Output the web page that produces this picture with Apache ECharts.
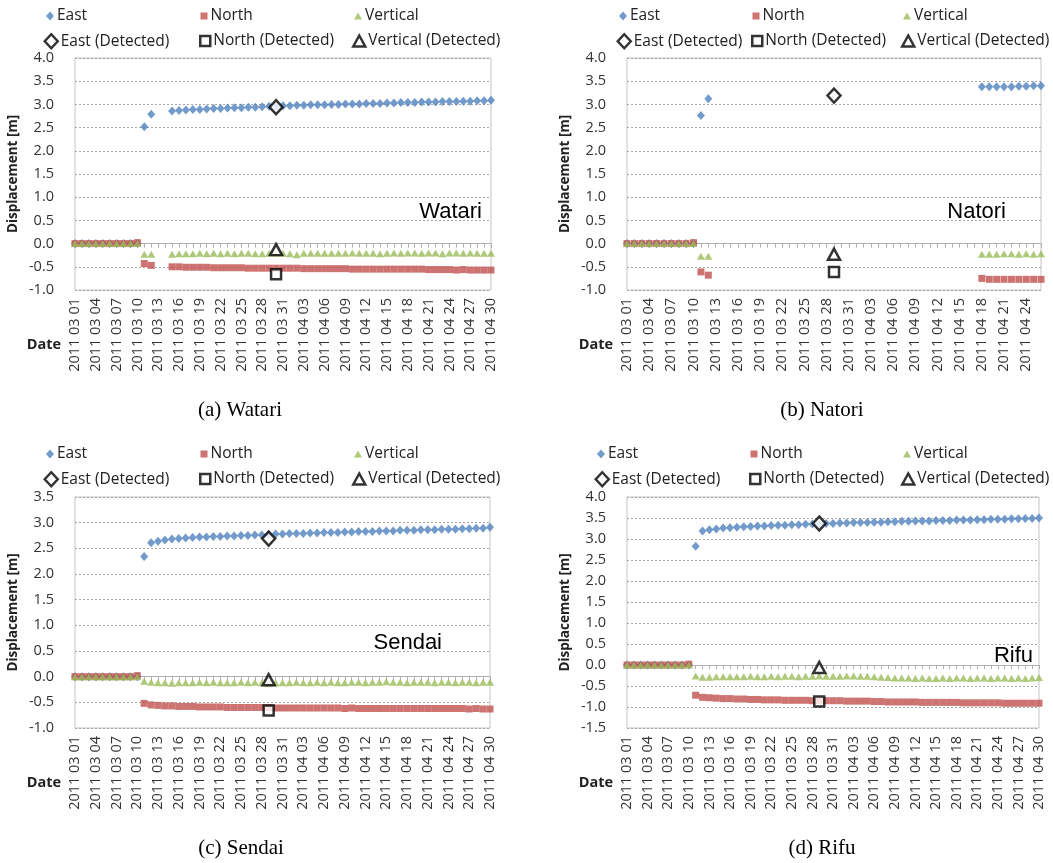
<!DOCTYPE html>
<html>
<head>
<meta charset="utf-8">
<script src="https://cdn.jsdelivr.net/npm/echarts@6/dist/echarts.min.js"></script>
<style>
html,body{margin:0;padding:0;background:#fff;}
#c{width:1053px;height:863px;}
</style>
</head>
<body>
<div id="c"></div>
<script>
// ---------- categories ----------
const dates = [
'2011 03 01','2011 03 02','2011 03 03','2011 03 04','2011 03 05','2011 03 06','2011 03 07','2011 03 08','2011 03 09','2011 03 10',
'2011 03 11','2011 03 12','2011 03 13','2011 03 14','2011 03 15','2011 03 16','2011 03 17','2011 03 18','2011 03 19','2011 03 20',
'2011 03 21','2011 03 22','2011 03 23','2011 03 24','2011 03 25','2011 03 26','2011 03 27','2011 03 28','2011 03 29','2011 03 30',
'2011 03 31','2011 04 01','2011 04 02','2011 04 03','2011 04 04','2011 04 05','2011 04 06','2011 04 07','2011 04 08','2011 04 09',
'2011 04 10','2011 04 11','2011 04 12','2011 04 13','2011 04 14','2011 04 15','2011 04 16','2011 04 17','2011 04 18','2011 04 19',
'2011 04 20','2011 04 21','2011 04 22','2011 04 23','2011 04 24','2011 04 25','2011 04 26','2011 04 27','2011 04 28','2011 04 29',
'2011 04 30'];
const natoriDates = dates.slice(0, 57); // 2011 03 01 .. 2011 04 26

// ---------- Watari ----------
const watariEast = [0,0,0,0,0,0,0,0,0,0, 2.52,2.79,null,null,
 2.86,2.87,2.88,2.89,2.89,2.90,2.91,2.91,2.92,2.93,
 2.93,2.94,2.94,2.95,2.96,2.96,2.97,2.97,2.98,2.98,
 2.99,2.99,2.99,3.00,3.00,3.01,3.01,3.01,3.02,3.02,
 3.02,3.03,3.03,3.04,3.04,3.04,3.05,3.05,3.05,3.06,
 3.06,3.06,3.07,3.07,3.08,3.08,3.09];
const watariNorth = [0,0,0,0,0,0,0,0,0,0.02, -0.43,-0.47,null,null,
 -0.50,-0.50,-0.51,-0.51,-0.51,-0.51,-0.52,-0.52,-0.52,-0.52,
 -0.52,-0.53,-0.53,-0.53,-0.53,-0.53,-0.53,-0.53,-0.53,-0.54,
 -0.54,-0.54,-0.54,-0.54,-0.54,-0.54,-0.55,-0.55,-0.55,-0.55,
 -0.55,-0.55,-0.55,-0.55,-0.55,-0.55,-0.55,-0.56,-0.56,-0.56,
 -0.56,-0.57,-0.56,-0.57,-0.57,-0.57,-0.57];
const watariVertical = [0,0,0,0,0,0,0,0,0,0, -0.23,-0.23,null,null,
 -0.23,-0.22,-0.22,-0.22,-0.21,-0.22,-0.21,-0.22,-0.21,-0.22,
 -0.21,-0.21,-0.22,-0.22,-0.21,-0.21,-0.21,-0.22,-0.24,-0.21,
 -0.21,-0.21,-0.21,-0.21,-0.21,-0.21,-0.20,-0.21,-0.21,-0.21,
 -0.22,-0.21,-0.20,-0.21,-0.20,-0.20,-0.21,-0.20,-0.20,-0.22,
 -0.20,-0.20,-0.21,-0.20,-0.21,-0.21,-0.21];
const watariDetected = ['2011 03 30', 2.94, -0.66, -0.13]; // date, east, north, vertical

// ---------- Natori ----------
const natoriEast = [0,0,0,0,0,0,0,0,0,0, 2.76,3.12,
 null,null,null,null,null,null,null,null,null,null,null,null,
 null,null,null,null,null,null,null,null,null,null,null,null,
 null,null,null,null,null,null,null,null,null,null,null,null,
 3.38,3.38,3.38,3.38,3.38,3.39,3.39,3.40,3.40];
const natoriNorth = [0,0,0,0,0,0,0,0,0,0.02, -0.61,-0.68,
 null,null,null,null,null,null,null,null,null,null,null,null,
 null,null,null,null,null,null,null,null,null,null,null,null,
 null,null,null,null,null,null,null,null,null,null,null,null,
 -0.75,-0.77,-0.77,-0.77,-0.77,-0.77,-0.77,-0.77,-0.77];
const natoriVertical = [0,0,0,0,0,0,0,0,0,0, -0.27,-0.27,
 null,null,null,null,null,null,null,null,null,null,null,null,
 null,null,null,null,null,null,null,null,null,null,null,null,
 null,null,null,null,null,null,null,null,null,null,null,null,
 -0.23,-0.23,-0.23,-0.22,-0.22,-0.23,-0.22,-0.23,-0.22];
const natoriDetected = ['2011 03 29', 3.19, -0.61, -0.23];

// ---------- Sendai ----------
const sendaiEast = [0,0,0,0,0,0,0,0,0,0,
 2.34,2.61,2.64,2.66,2.68,2.69,2.70,2.71,2.72,2.72,
 2.73,2.73,2.74,2.74,2.75,2.75,2.76,2.76,2.77,2.78,
 2.78,2.79,2.79,2.79,2.80,2.80,2.81,2.81,2.81,2.82,
 2.82,2.83,2.83,2.83,2.84,2.84,2.84,2.85,2.85,2.85,
 2.86,2.86,2.86,2.87,2.87,2.87,2.88,2.88,2.89,2.89,
 2.91];
const sendaiNorth = [0,0,0,0,0,0,0,0,0,0.02,
 -0.52,-0.55,-0.56,-0.57,-0.57,-0.58,-0.58,-0.58,-0.59,-0.59,
 -0.59,-0.59,-0.60,-0.60,-0.60,-0.60,-0.60,-0.60,-0.60,-0.61,
 -0.61,-0.61,-0.61,-0.61,-0.61,-0.61,-0.61,-0.61,-0.61,-0.62,
 -0.61,-0.62,-0.62,-0.62,-0.62,-0.62,-0.62,-0.62,-0.62,-0.62,
 -0.62,-0.62,-0.62,-0.62,-0.62,-0.62,-0.62,-0.63,-0.62,-0.63,
 -0.63];
const sendaiVertical = [0,0,0,0,0,0,0,0,0,0,
 -0.09,-0.11,-0.12,-0.12,-0.13,-0.12,-0.12,-0.12,-0.11,-0.12,
 -0.11,-0.12,-0.12,-0.12,-0.11,-0.12,-0.11,-0.12,-0.13,-0.12,
 -0.12,-0.12,-0.11,-0.12,-0.12,-0.11,-0.12,-0.11,-0.12,-0.12,
 -0.11,-0.11,-0.12,-0.11,-0.11,-0.10,-0.11,-0.11,-0.12,-0.11,
 -0.11,-0.11,-0.12,-0.11,-0.11,-0.12,-0.11,-0.11,-0.12,-0.11,
 -0.11];
const sendaiDetected = ['2011 03 29', 2.69, -0.66, -0.06];

// ---------- Rifu ----------
const rifuEast = [0,0,0,0,0,0,0,0,0,0,
 2.83,3.19,3.22,3.24,3.26,3.27,3.28,3.29,3.30,3.31,
 3.31,3.32,3.33,3.33,3.34,3.34,3.35,3.36,3.36,3.37,
 3.37,3.38,3.38,3.39,3.39,3.39,3.40,3.40,3.41,3.41,
 3.42,3.42,3.43,3.43,3.43,3.44,3.44,3.44,3.45,3.45,
 3.45,3.46,3.46,3.47,3.47,3.47,3.48,3.48,3.49,3.49,
 3.50];
const rifuNorth = [0,0,0,0,0,0,0,0,0,0.02,
 -0.72,-0.77,-0.78,-0.79,-0.80,-0.80,-0.81,-0.81,-0.82,-0.82,
 -0.83,-0.83,-0.83,-0.84,-0.84,-0.84,-0.84,-0.85,-0.85,-0.85,
 -0.85,-0.85,-0.86,-0.86,-0.86,-0.86,-0.87,-0.87,-0.88,-0.88,
 -0.88,-0.88,-0.88,-0.89,-0.89,-0.89,-0.89,-0.89,-0.89,-0.90,
 -0.90,-0.90,-0.90,-0.90,-0.90,-0.91,-0.91,-0.91,-0.91,-0.91,
 -0.91];
const rifuVertical = [0,0,0,0,0,0,0,0,0,0,
 -0.26,-0.29,-0.29,-0.28,-0.28,-0.28,-0.28,-0.28,-0.27,-0.28,
 -0.28,-0.27,-0.28,-0.27,-0.27,-0.28,-0.27,-0.27,-0.26,-0.27,
 -0.27,-0.27,-0.26,-0.26,-0.27,-0.27,-0.28,-0.29,-0.30,-0.31,
 -0.31,-0.31,-0.32,-0.31,-0.32,-0.32,-0.31,-0.32,-0.31,-0.31,
 -0.32,-0.31,-0.31,-0.32,-0.31,-0.31,-0.32,-0.31,-0.32,-0.31,
 -0.30];
const rifuDetected = ['2011 03 29', 3.37, -0.87, -0.06];

// ---------- labels ----------
const seriesNames = ['East','North','Vertical','East (Detected)','North (Detected)','Vertical (Detected)'];
const stationNames = ['Watari','Natori','Sendai','Rifu'];
const captions = ['(a) Watari','(b) Natori','(c) Sendai','(d) Rifu'];

// ---------- layout (positions / styles) ----------
const C_E = '#4F81BD', C_N = '#C0504D', C_V = '#9BBB59';
const FONT = '"Open Sans", "Noto Sans", sans-serif';
const panels = [
  {cats: dates, e: watariEast, n: watariNorth, v: watariVertical, det: watariDetected,
   yMin: -1, yMax: 4, grid: {left: 75, top: 58, width: 416, height: 232},
   labelPos: [482, 212], capPos: [240, 410], datePos: [44, 345],
   legX: [50, 204, 358], legY: [14, 39]},
  {cats: natoriDates, e: natoriEast, n: natoriNorth, v: natoriVertical, det: natoriDetected,
   yMin: -1, yMax: 4, grid: {left: 627, top: 58, width: 414, height: 232},
   labelPos: [1006, 212], capPos: [822, 410], datePos: [596, 345],
   legX: [623, 756, 907], legY: [14, 39]},
  {cats: dates, e: sendaiEast, n: sendaiNorth, v: sendaiVertical, det: sendaiDetected,
   yMin: -1, yMax: 3.5, grid: {left: 75, top: 497, width: 415, height: 231},
   labelPos: [442, 643], capPos: [241, 848], datePos: [44, 783],
   legX: [50, 204, 358], legY: [452, 477]},
  {cats: dates, e: rifuEast, n: rifuNorth, v: rifuVertical, det: rifuDetected,
   yMin: -1.5, yMax: 4, grid: {left: 627, top: 497, width: 412, height: 231},
   labelPos: [1033, 656], capPos: [822, 848], datePos: [596, 783],
   legX: [601, 754, 907], legY: [452, 477]}
];

const markerStyles = [
  {symbol: 'diamond', size: [8, 9], itemStyle: {color: C_E}},
  {symbol: 'rect', size: [7, 7], itemStyle: {color: C_N}},
  {symbol: 'triangle', size: [8, 7], itemStyle: {color: C_V}},
  {symbol: 'diamond', size: [13, 14], itemStyle: {color: '#fff', borderColor: '#000', borderWidth: 2.5}},
  {symbol: 'rect', size: [10, 10], itemStyle: {color: '#fff', borderColor: '#000', borderWidth: 2.5}},
  {symbol: 'triangle', size: [12, 11], itemStyle: {color: '#fff', borderColor: '#000', borderWidth: 2.5}}
];

const option = {
  animation: false,
  backgroundColor: '#fff',
  textStyle: {fontFamily: FONT},
  grid: [], xAxis: [], yAxis: [], series: [], legend: [], graphic: []
};

panels.forEach((p, k) => {
  option.grid.push(Object.assign({show: true, borderColor: '#c4c4c4', borderWidth: 1, backgroundColor: '#fff'}, p.grid));
  // bottom axis for labels
  option.xAxis.push({
    type: 'category', gridIndex: k, data: p.cats, boundaryGap: false,
    axisLine: {show: false, onZero: false}, axisTick: {show: false},
    axisLabel: {rotate: 90, interval: 2, fontSize: 14.5, color: '#333', margin: 8, fontFamily: FONT},
    splitLine: {show: false}
  });
  // axis line at zero with daily ticks
  option.xAxis.push({
    type: 'category', gridIndex: k, data: p.cats, boundaryGap: false, position: 'bottom',
    axisLine: {show: true, onZero: true, lineStyle: {color: '#b0b0b0', width: 1}},
    axisTick: {show: true, interval: 0, length: 4, lineStyle: {color: '#b0b0b0'}},
    axisLabel: {show: false}, splitLine: {show: false}
  });
  option.yAxis.push({
    type: 'value', gridIndex: k, min: p.yMin, max: p.yMax, interval: 0.5,
    name: 'Displacement [m]', nameLocation: 'middle', nameGap: 55,
    nameTextStyle: {fontWeight: 'bold', fontSize: 13.5, color: '#222', fontFamily: FONT},
    axisLine: {show: false}, axisTick: {show: false},
    axisLabel: {formatter: v => v.toFixed(1), fontSize: 14.5, color: '#333', margin: 21, fontFamily: FONT},
    splitLine: {show: true, lineStyle: {color: '#a8a8a8', type: [2, 2], width: 1}}
  });
  const xi = 2 * k;
  const vals = [p.e, p.n, p.v];
  vals.forEach((arr, j) => {
    const m = markerStyles[j];
    option.series.push({
      name: seriesNames[j], type: 'scatter', xAxisIndex: xi, yAxisIndex: k,
      symbol: m.symbol, symbolSize: m.size, itemStyle: m.itemStyle,
      data: arr, z: 2 + j
    });
  });
  for (let j = 0; j < 3; j++) {
    const m = markerStyles[3 + j];
    option.series.push({
      name: seriesNames[3 + j], type: 'scatter', xAxisIndex: xi, yAxisIndex: k,
      symbol: m.symbol, symbolSize: m.size, itemStyle: m.itemStyle,
      data: [[p.det[0], p.det[1 + j]]], z: 10
    });
  }
  // legends: 3 columns x 2 rows
  for (let col = 0; col < 3; col++) {
    for (let row = 0; row < 2; row++) {
      const idx = row * 3 + col;
      const m = markerStyles[idx];
      const w = m.size[0], h = m.size[1];
      option.legend.push({
        left: p.legX[col] - w / 2, top: p.legY[row] - 6, padding: 0,
        itemWidth: w, itemHeight: h, itemGap: 0, selectedMode: false, height: 18,
        textStyle: {fontSize: 15.5, color: '#222', fontFamily: FONT, padding: [0, 0, 0, -2]},
        data: [{name: seriesNames[idx], icon: m.symbol, itemStyle: m.itemStyle}]
      });
    }
  }
  option.graphic.push(
    {type: 'text', style: {text: stationNames[k], textAlign: 'right', textVerticalAlign: 'middle', font: '22px "Liberation Sans", Arial, sans-serif', fill: '#000'}, position: [p.labelPos[0], p.labelPos[1]]},
    {type: 'text', style: {text: captions[k], textAlign: 'center', textVerticalAlign: 'middle', font: '21px "Liberation Serif", "Times New Roman", serif', fill: '#000'}, position: [p.capPos[0], p.capPos[1]]},
    {type: 'text', style: {text: 'Date', textAlign: 'center', textVerticalAlign: 'middle', font: 'bold 14.5px ' + FONT, fill: '#222'}, position: [p.datePos[0], p.datePos[1]]}
  );
});

const chart = echarts.init(document.getElementById('c'), null, {renderer: 'canvas'});
chart.setOption(option);
</script>
</body>
</html>
